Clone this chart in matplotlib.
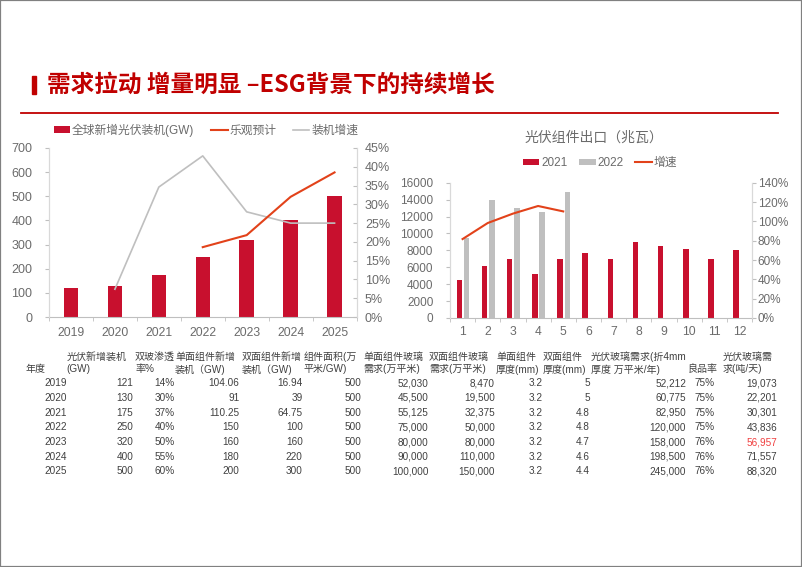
import matplotlib
matplotlib.use("Agg")
import matplotlib.pyplot as plt
from matplotlib.patches import Rectangle
from matplotlib.ticker import FuncFormatter, FixedLocator
import numpy as np

plt.rcParams['font.family'] = ['Liberation Sans', 'Noto Sans CJK SC', 'DejaVu Sans']

# ---------------- data ----------------
years = ['2019', '2020', '2021', '2022', '2023', '2024', '2025']
installs_gw = [121, 130, 175, 250, 320, 400, 500]
growth_install = [None, 7.4, 34.6, 42.9, 28.0, 25.0, 25.0]      # %
growth_optimistic = [None, None, None, 18.6, 21.8, 32.0, 38.5]  # %

months = ['1', '2', '3', '4', '5', '6', '7', '8', '9', '10', '11', '12']
export_2021 = [4500, 6100, 7000, 5200, 7000, 7700, 7000, 9000, 8500, 8200, 7000, 8000]
export_2022 = [9500, 14000, 13000, 12500, 14900]
export_growth = [81.7, 98.3, 108.0, 115.9, 110.3]  # %

table_header1 = ['', '光伏新增装机', '双玻渗透', '单面组件新增', '双面组件新增', '组件面积(万',
                 '单面组件玻璃', '双面组件玻璃', '单面组件', '双面组件', '光伏玻璃需求(折4mm', '', '光伏玻璃需']
table_header2 = ['年度', '(GW)', '率%', '装机（GW)', '装机（GW)', '平米/GW)',
                 '需求(万平米)', '需求(万平米)', '厚度(mm)', '厚度(mm)', '厚度 万平米/年)', '良品率', '求(吨/天)']
table_rows = [
    ['2019', '121', '14%', '104.06', '16.94', '500', '52,030', '8,470', '3.2', '5', '52,212', '75%', '19,073'],
    ['2020', '130', '30%', '91', '39', '500', '45,500', '19,500', '3.2', '5', '60,775', '75%', '22,201'],
    ['2021', '175', '37%', '110.25', '64.75', '500', '55,125', '32,375', '3.2', '4.8', '82,950', '75%', '30,301'],
    ['2022', '250', '40%', '150', '100', '500', '75,000', '50,000', '3.2', '4.8', '120,000', '75%', '43,836'],
    ['2023', '320', '50%', '160', '160', '500', '80,000', '80,000', '3.2', '4.7', '158,000', '76%', '56,957'],
    ['2024', '400', '55%', '180', '220', '500', '90,000', '110,000', '3.2', '4.6', '198,500', '76%', '71,557'],
    ['2025', '500', '60%', '200', '300', '500', '100,000', '150,000', '3.2', '4.4', '245,000', '76%', '88,320'],
]

title = '需求拉动 增量明显 –ESG背景下的持续增长'

# ---------------- style ----------------
RED = '#C8102E'
ORANGE = '#E2421A'
GRAY = '#BFBFBF'
TXT = '#6B6B6B'
W, H = 802, 567

fig = plt.figure(figsize=(W / 100, H / 100), dpi=100)

def fx(px):
    return px / W

def fy(py):
    return 1 - py / H

# border
fig.patches.append(Rectangle((0, 0), 1, 1, transform=fig.transFigure, fill=False,
                             edgecolor='#808080', linewidth=1.6))
# title marker + title
fig.patches.append(Rectangle((fx(32), fy(93.5)), fx(36) - fx(32), fy(76.5) - fy(93.5),
                             transform=fig.transFigure, color='#C00000'))
fig.text(fx(47), fy(85), title, color='#C00000', fontsize=17, fontweight='bold',
         va='center', ha='left', family=['Noto Sans CJK SC', 'DejaVu Sans'])
# red rule
fig.add_artist(plt.Line2D([fx(21), fx(778)], [fy(113), fy(113)], transform=fig.transFigure,
                          color='#C00000', linewidth=1.3))


def style_axes(ax, ax2, n):
    for a in (ax, ax2):
        a.spines['top'].set_visible(False)
        a.spines['left'].set_color('#D9D9D9')
        a.spines['right'].set_color('#D9D9D9')
        a.spines['bottom'].set_color('#BFBFBF')
        a.tick_params(axis='y', colors=TXT, length=3, width=0.8, color='#BFBFBF')
    ax2.spines['bottom'].set_visible(False)
    ax.set_xlim(-0.5, n - 0.5)
    ax.set_xticks(np.arange(n))
    ax.xaxis.set_minor_locator(FixedLocator(np.arange(n + 1) - 0.5))
    ax.tick_params(axis='x', which='major', length=0, colors=TXT)
    ax.tick_params(axis='x', which='minor', length=3, color='#BFBFBF', direction='out')


# ---------------- left chart ----------------
ax1 = fig.add_axes([fx(49), fy(317), fx(356.5) - fx(49), fy(148) - fy(317)])
ax1b = ax1.twinx()
x1 = np.arange(len(years))
ax1.bar(x1, installs_gw, width=0.33, color=RED, label='全球新增光伏装机(GW)', zorder=2)
ax1.set_ylim(0, 700)
ax1.set_yticks(np.arange(0, 701, 100))
ax1.set_xticks(x1)
ax1.set_xticklabels(years)
ga = [np.nan if v is None else v / 100 for v in growth_install]
go = [np.nan if v is None else v / 100 for v in growth_optimistic]
l_opt, = ax1b.plot(x1, go, color=ORANGE, linewidth=1.5, label='乐观预计', zorder=3)
l_gr, = ax1b.plot(x1, ga, color=GRAY, linewidth=1.2, label='装机增速', zorder=2)
ax1b.set_ylim(0, 0.45)
ax1b.set_yticks(np.arange(0, 0.451, 0.05))
ax1b.yaxis.set_major_formatter(FuncFormatter(lambda v, p: f'{v*100:.0f}%'))
style_axes(ax1, ax1b, len(years))
ax1.tick_params(axis='x', labelsize=8.7, pad=7)
ax1.tick_params(axis='y', labelsize=9, pad=9)
ax1b.tick_params(axis='y', labelsize=9, pad=6, direction='in')
h1, lab1 = ax1.get_legend_handles_labels()
fig.legend(h1 + [l_opt, l_gr], lab1 + ['乐观预计', '装机增速'], loc='center',
           bbox_to_anchor=(fx(206), fy(130)), ncol=3, frameon=False, fontsize=8.5,
           handlelength=1.4, handleheight=0.45, handletextpad=0.15, columnspacing=1.4,
           labelcolor=TXT)

# ---------------- right chart ----------------
ax2 = fig.add_axes([fx(450), fy(318), fx(752) - fx(450), fy(182.7) - fy(318)])
ax2b = ax2.twinx()
x2 = np.arange(len(months))
ax2.bar(x2 - 0.13, export_2021, width=0.22, color=RED, label='2021', zorder=2)
ax2.bar(x2[:len(export_2022)] + 0.16, export_2022, width=0.22, color=GRAY, label='2022', zorder=2)
ax2.set_ylim(0, 16000)
ax2.set_yticks(np.arange(0, 16001, 2000))
ax2.set_xticks(x2)
ax2.set_xticklabels(months)
l_eg, = ax2b.plot(x2[:len(export_growth)], [v / 100 for v in export_growth], color=ORANGE,
                  linewidth=1.5, label='增速', zorder=3)
ax2b.set_ylim(0, 1.4)
ax2b.set_yticks(np.arange(0, 1.401, 0.2))
ax2b.yaxis.set_major_formatter(FuncFormatter(lambda v, p: f'{v*100:.0f}%'))
style_axes(ax2, ax2b, len(months))
ax2.tick_params(axis='x', labelsize=8.7, pad=6)
ax2.tick_params(axis='y', labelsize=8.5, pad=9)
ax2b.tick_params(axis='y', labelsize=8.5, pad=1)
h2, lab2 = ax2.get_legend_handles_labels()
fig.legend(h2 + [l_eg], lab2 + ['增速'], loc='center', bbox_to_anchor=(fx(600), fy(163)),
           ncol=3, frameon=False, fontsize=8.5, handlelength=1.4, handleheight=0.45,
           handletextpad=0.15, columnspacing=1.0, labelcolor=TXT)
fig.text(fx(594), fy(138), '光伏组件出口（兆瓦）', ha='center', va='center', fontsize=10, color=TXT)

# ---------------- table ----------------
hdr_x = [26, 66.7, 135, 175, 242, 304, 363, 429, 496, 543, 591, 688, 723]
val_x = [66.7, 133.3, 175, 239.3, 302.7, 361.7, 428.3, 495, 542.3, 590, 686, 715, 777.3]
row_y0, row_dy = 383.3, 14.7
TFS = 7.2
for i in range(len(hdr_x)):
    if table_header1[i]:
        fig.text(fx(hdr_x[i]), fy(356.7), table_header1[i], ha='left', va='center',
                 fontsize=TFS, color='#404040')
    fig.text(fx(hdr_x[i]), fy(369.3), table_header2[i], ha='left', va='center',
             fontsize=TFS, color='#404040')
for r, row in enumerate(table_rows):
    for c, val in enumerate(row):
        col = '#404040'
        if r == 4 and c == len(row) - 1:
            col = '#F04040'
        fig.text(fx(val_x[c]), fy(row_y0 + r * row_dy), val, ha='right', va='center',
                 fontsize=TFS, color=col)

fig.savefig('out.png', dpi=100)
